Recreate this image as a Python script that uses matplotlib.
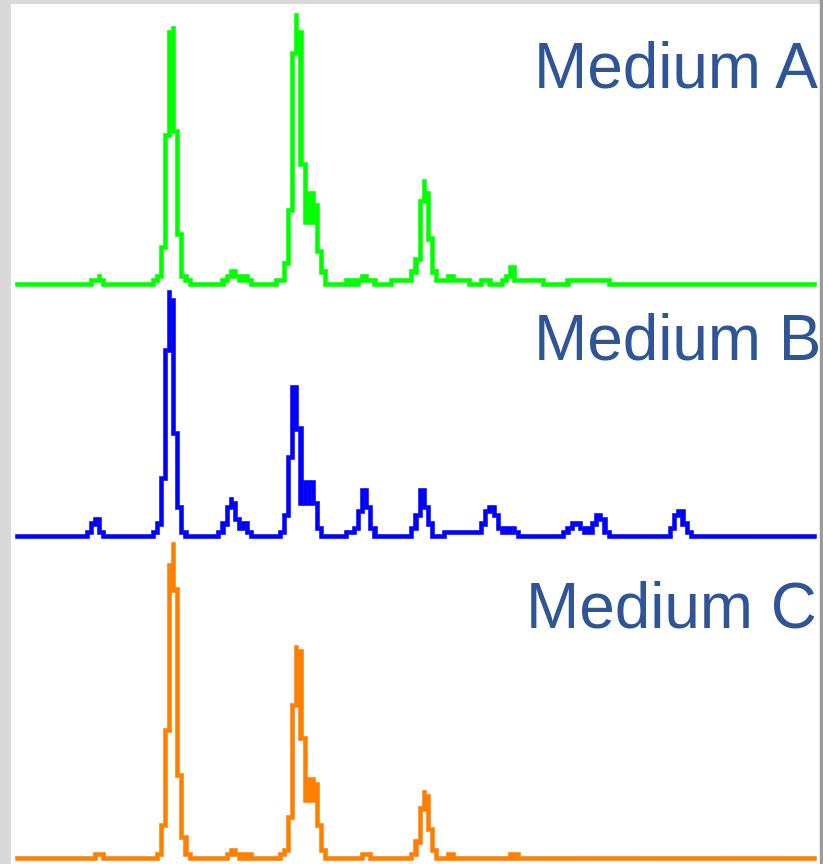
import matplotlib
matplotlib.use("Agg")
import matplotlib.pyplot as plt
import numpy as np
from matplotlib.patches import Rectangle

# trace height per sample column (in screen rows above each trace's baseline)
medium_a = [
    0, 0, 0, 0, 0, 0, 0, 0, 0, 0,
    0, 0, 0, 0, 0, 0, 0, 0, 1, 1,
    2, 1, 0, 0, 0, 0, 0, 0, 0, 0,
    0, 0, 0, 1, 2, 9, 36, 61, 62, 37,
    12, 2, 1, 0, 0, 0, 0, 0, 0, 0,
    1, 2, 3, 3, 2, 1, 2, 1, 0, 0,
    0, 0, 0, 1, 1, 5, 18, 56, 65, 61,
    29, 15, 22, 19, 8, 3, 0, 0, 0, 0,
    1, 1, 0, 1, 2, 2, 1, 1, 0, 0,
    0, 1, 1, 1, 1, 1, 3, 6, 20, 25,
    22, 11, 3, 1, 1, 2, 2, 1, 1, 1,
    1, 0, 0, 1, 1, 1, 0, 0, 1, 2,
    4, 4, 1, 1, 1, 1, 1, 1, 1, 0,
    0, 0, 0, 0, 1, 1, 1, 1, 1, 1,
    1, 1, 1, 1, 1, 0, 0, 0, 0, 0,
    0, 0, 0, 0, 0, 0, 0, 0, 0, 0,
    0, 0, 0, 0, 0, 0, 0, 0, 0, 0,
    0, 0, 0, 0, 0, 0, 0, 0, 0, 0,
    0, 0, 0, 0, 0, 0, 0, 0, 0, 0,
    0, 0, 0, 0, 0,
]
medium_b = [
    0, 0, 0, 0, 0, 0, 0, 0, 0, 0,
    0, 0, 0, 0, 0, 0, 0, 1, 3, 4,
    4, 1, 0, 0, 0, 0, 0, 0, 0, 0,
    0, 0, 0, 1, 3, 14, 45, 59, 57, 25,
    7, 1, 0, 0, 0, 0, 0, 0, 0, 1,
    3, 7, 9, 8, 4, 2, 3, 1, 0, 0,
    0, 0, 0, 0, 1, 5, 19, 36, 36, 26,
    8, 13, 13, 8, 2, 0, 0, 0, 0, 0,
    1, 1, 2, 6, 11, 11, 7, 2, 0, 0,
    0, 0, 0, 0, 0, 0, 2, 5, 11, 11,
    7, 3, 0, 0, 1, 1, 1, 1, 1, 1,
    1, 1, 1, 3, 6, 7, 7, 5, 2, 1,
    2, 2, 1, 0, 0, 0, 0, 0, 0, 0,
    0, 0, 0, 1, 2, 3, 3, 3, 2, 1,
    3, 5, 5, 4, 1, 0, 0, 0, 0, 0,
    0, 0, 0, 0, 0, 0, 0, 0, 0, 2,
    5, 6, 6, 3, 1, 0, 0, 0, 0, 0,
    0, 0, 0, 0, 0, 0, 0, 0, 0, 0,
    0, 0, 0, 0, 0, 0, 0, 0, 0, 0,
    0, 0, 0, 0, 0,
]
medium_c = [
    0, 0, 0, 0, 0, 0, 0, 0, 0, 0,
    0, 0, 0, 0, 0, 0, 0, 0, 0, 1,
    1, 1, 0, 0, 0, 0, 0, 0, 0, 0,
    0, 0, 0, 0, 1, 8, 31, 71, 76, 65,
    20, 5, 1, 0, 0, 0, 0, 0, 0, 0,
    0, 1, 2, 2, 1, 0, 1, 1, 0, 0,
    0, 0, 0, 0, 1, 2, 10, 37, 51, 50,
    29, 14, 19, 18, 8, 2, 0, 0, 0, 0,
    0, 0, 0, 0, 1, 1, 1, 0, 0, 0,
    0, 0, 0, 0, 0, 0, 1, 4, 12, 16,
    15, 7, 2, 0, 0, 1, 1, 0, 0, 0,
    0, 0, 0, 0, 0, 0, 0, 0, 0, 0,
    1, 0, 1, 0, 0, 0, 0, 0, 0, 0,
    0, 0, 0, 0, 0, 0, 0, 0, 0, 0,
    0, 0, 0, 0, 0, 0, 0, 0, 0, 0,
    0, 0, 0, 0, 0, 0, 0, 0, 0, 0,
    0, 0, 0, 0, 0, 0, 0, 0, 0, 0,
    0, 0, 0, 0, 0, 0, 0, 0, 0, 0,
    0, 0, 0, 0, 0, 0, 0, 0, 0, 0,
    0, 0, 0, 0, 0,
]

labels = ["Medium A", "Medium B", "Medium C"]
offsets = [139, 78, 0]
colors = ["#00ff00", "#0000ff", "#ff8000"]
# label anchor (left of text, baseline) in pixels of the 823x864 canvas
label_xy = [(533.5, 87), (533.5, 359), (526.5, 627)]
W, H = 823, 864


def column_spans(v):
    """Each screen column is filled from its value down (or up) to the lower
    neighbour, like a 1-px polyline rasterised on a coarse grid."""
    v = np.asarray(v, float)
    left = np.r_[v[0], v[:-1]]
    right = np.r_[v[1:], v[-1]]
    m = np.minimum(left, right)
    return np.minimum(v, m), np.maximum(v, m)


fig = plt.figure(figsize=(W / 100, H / 100), dpi=100, facecolor="#d9d9d9")
ax = fig.add_axes([11 / W, 0, 809 / W, 860 / H], facecolor="white")

for vals, off, c in zip([medium_a, medium_b, medium_c], offsets, colors):
    lo, hi = column_spans(vals)
    x = np.arange(len(vals))
    ax.bar(x, hi - lo + 1, bottom=off + lo - 0.5, width=1.0,
           color=c, edgecolor=c, linewidth=0.4)

ax.set_xlim(-1.474, 195.46)
ax.set_ylim(-1.453, 206.78)
ax.set_xticks([])
ax.set_yticks([])
for s in ax.spines.values():
    s.set_visible(False)

fig.add_artist(Rectangle((820 / W, 0), 3 / W, 1, transform=fig.transFigure,
                         color="#9a9a9a", zorder=5))

for lab, (px, py) in zip(labels, label_xy):
    fig.text(px / W, 1 - py / H, lab, ha="left", va="baseline", fontsize=46,
             color="#2f5597", family=["Liberation Sans", "DejaVu Sans"])

fig.savefig("out.png", dpi=100, facecolor=fig.get_facecolor())
